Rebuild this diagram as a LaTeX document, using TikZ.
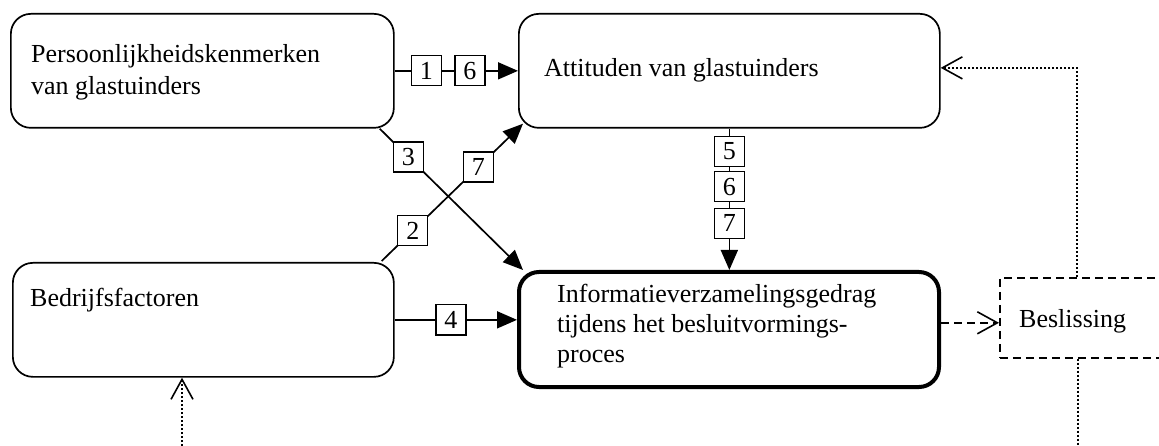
\documentclass[tikz,border=0pt]{standalone}
\usepackage{fontspec}
\setmainfont{Liberation Serif}
\usetikzlibrary{arrows.meta,calc}
\begin{document}
\begin{tikzpicture}[x=1pt,y=-1pt,
  box/.style={draw, line width=1.7pt, rounded corners=20pt, minimum width=#1, minimum height=114pt, anchor=north west, inner sep=0pt},
  thickbox/.style={draw, line width=4pt, rounded corners=20pt, anchor=north west, inner sep=0pt},
  dashbox/.style={draw, line width=1.6pt, dash pattern=on 8pt off 5pt, anchor=north west, inner sep=0pt},
  lbl/.style={draw, fill=white, line width=1.3pt, minimum width=30pt, minimum height=30pt, inner sep=0pt, font=\fontsize{26}{31}\selectfont},
  txt/.style={inner sep=0pt, anchor=base west, font=\fontsize{26}{31}\selectfont},
  conn/.style={line width=1.7pt, -{Triangle[length=20pt,width=17pt]}},
  dashconn/.style={line width=1.6pt, dash pattern=on 8pt off 5pt, -{Straight Barb[length=20pt,width=22pt,line width=1.6pt]}},
  dotconn/.style={line width=1.6pt, dash pattern=on 2pt off 2pt},
  dotarrow/.style={dotconn, -{Straight Barb[length=20pt,width=22pt,line width=1.6pt]}}
]
\useasboundingbox (0,0) rectangle (1159,446);
\clip (0,0) rectangle (1159,446);

% boxes
\node[box=383pt] (A) at (10,13) {};
\node[box=421pt] (B) at (518,13) {};
\node[box=381pt] (C) at (12,262) {};
\node[thickbox, minimum width=420pt, minimum height=115pt] (D) at (517,270) {};
\node[dashbox, minimum width=200pt, minimum height=80pt] (E) at (999,277) {};

% texts
\node[txt] (A1) at (31,63) {Persoonlijkheidskenmerken};
\node[txt] (A2) at (31,95) {van glastuinders};
\node[txt] (B1) at (544,77) {Attituden van glastuinders};
\node[txt] (C1) at (30,307) {Bedrijfsfactoren};
\node[txt] (D1) at (557,302) {Informatieverzamelingsgedrag};
\node[txt] (D2) at (557,332) {tijdens het besluitvormings-};
\node[txt] (D3) at (557,362) {proces};
\node[txt] (E1) at (1019,327) {Beslissing};

% coordinates
\coordinate (a3) at ($(A.south east)+(-15,0)$);
\coordinate (d3) at ($(D.north west)+(6,0)$);
\coordinate (c2) at ($(C.north east)+(-13,-1)$);
\coordinate (b7) at ($(B.south west)+(5,-5)$);
\coordinate (eIn) at ($(E.west)+(0,5)$);
\coordinate (eTop) at ($(E.north west)+(78,0)$);
\coordinate (bIn) at ($(B.east)+(0,-3)$);
\coordinate (eBot) at ($(E.south west)+(79,0)$);
\coordinate (eEnd) at (1078,446);
\coordinate (cStart) at (182,446);

% connectors
\draw[conn] (A.east) -- (B.west)
  node[lbl,pos=0.256] (l1) {1}
  node[lbl,pos=0.61] (l6a) {6};
\draw[conn] (C.east) -- (C.east -| D.west)
  node[lbl,pos=0.46] (l4) {4};
\draw[conn] (B.south) -- (B.south |- D.north)
  node[lbl,pos=0.16] (l5) {5}
  node[lbl,pos=0.41] (l6b) {6}
  node[lbl,pos=0.67] (l7b) {7};
\draw[conn] (a3) -- (d3)
  node[lbl,pos=0.2] (l3) {3};
\draw[conn] (c2) -- (b7)
  node[lbl,pos=0.22] (l2) {2}
  node[lbl,pos=0.685] (l7a) {7};
\draw[dashconn] (D.east |- eIn) -- (eIn);
\draw[dotarrow] (eTop) |- (bIn);
\draw[dotconn] (eBot) -- (eEnd);
\draw[dotarrow] (cStart) -- (cStart |- C.south);
\end{tikzpicture}
\end{document}
